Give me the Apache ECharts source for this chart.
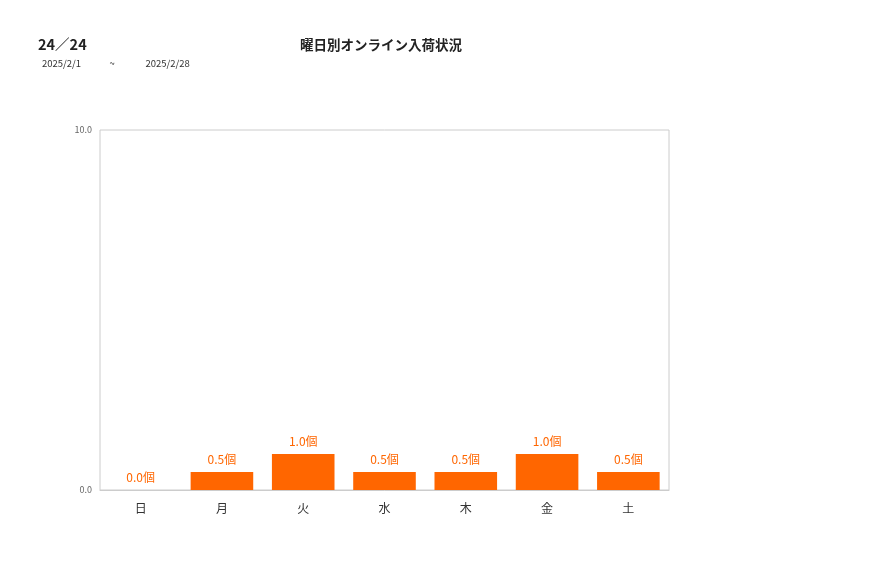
<!DOCTYPE html>
<html><head><meta charset="utf-8">
<script src="https://cdn.jsdelivr.net/npm/echarts@6/dist/echarts.min.js"></script>
<style>html,body{margin:0;padding:0;background:#fff}#c{width:877px;height:578px}</style>
</head><body><div id="c"></div>
<script>
const categories = ['日','月','火','水','木','金','土'];
const values = [0.0, 0.5, 1.0, 0.5, 0.5, 1.0, 0.5];
const yTicks = [0, 10];
const chart = echarts.init(document.getElementById('c'));
const font = '"Noto Sans CJK JP", "Noto Sans", sans-serif';
chart.setOption({
  animation: false,
  textStyle: { fontFamily: font },
  title: [
    { text: '24／24', left: 33, top: 32, textStyle: { fontSize: 14.5, fontWeight: 'bold', color: '#222', fontFamily: font } },
    { text: '2025/2/1　　　~　　　 2025/2/28', left: 37, top: 54, textStyle: { fontSize: 9.5, fontWeight: 'normal', color: '#333', fontFamily: font } },
    { text: '曜日別オンライン入荷状況', left: 295, top: 33, textStyle: { fontSize: 13.5, fontWeight: 'bold', color: '#222', fontFamily: font } }
  ],
  grid: { left: 100, right: 208, top: 130, bottom: 88, show: true, borderColor: '#ccc', borderWidth: 1 },
  xAxis: {
    type: 'category', data: categories,
    axisLine: { lineStyle: { color: '#ccc' } },
    axisTick: { show: false },
    axisLabel: { color: '#333', fontSize: 12, margin: 12 }
  },
  yAxis: {
    type: 'value', min: yTicks[0], max: yTicks[1], interval: 10,
    splitLine: { show: false },
    axisLine: { show: false }, axisTick: { show: false },
    axisLabel: { color: '#666', fontSize: 9, formatter: v => v.toFixed(1) }
  },
  series: [{
    type: 'bar', data: values, barWidth: '77%',
    itemStyle: { color: '#ff6600' },
    label: { show: true, position: 'top', color: '#ff6600', fontSize: 12, distance: 7, formatter: p => p.value.toFixed(1) + '個' }
  }]
});
</script></body></html>
